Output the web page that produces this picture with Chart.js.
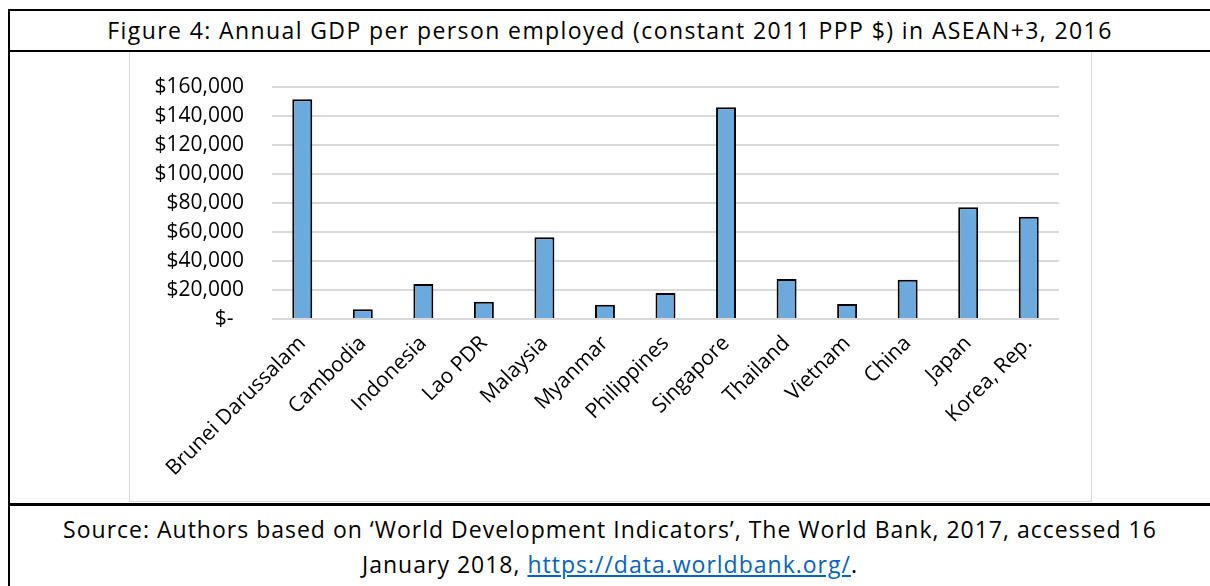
<!DOCTYPE html>
<html>
<head>
<meta charset="utf-8">
<script src="https://cdn.jsdelivr.net/npm/chart.js@4.4.0/dist/chart.umd.min.js"></script>
<style>
  body { margin: 0; width: 1210px; height: 586px; overflow: hidden; background: #fff; font-family: "Open Sans", sans-serif; color: #000; }
  .line { position: absolute; background: #000; }
  #title { position: absolute; left: 10px; top: 10px; width: 1200px; height: 40px; line-height: 40px; text-align: center; font-size: 23px; letter-spacing: 1.4px; }
  #chartBox { position: absolute; left: 129px; top: 52px; width: 961px; height: 449px; border: 1.5px solid #d9d9d9; border-top: none; }
  #chartBox canvas { position: absolute; left: 0; top: 0; }
  #source { position: absolute; left: 10px; top: 512px; width: 1200px; text-align: center; font-size: 23px; letter-spacing: 1px; line-height: 35px; }
  #source a { color: #0563c1; text-decoration: underline; }
</style>
</head>
<body>
<div class="line" style="left:8px;top:9px;width:1202px;height:2px"></div>
<div class="line" style="left:8px;top:9px;width:2px;height:577px"></div>
<div class="line" style="left:8px;top:50px;width:1202px;height:2px"></div>
<div class="line" style="left:8px;top:503px;width:1202px;height:3px"></div>
<div id="title">Figure 4: Annual GDP per person employed (constant 2011 PPP $) in ASEAN+3, 2016</div>
<div id="chartBox"><canvas id="gdpChart" width="960" height="449"></canvas></div>
<div id="source">Source: Authors based on ‘World Development Indicators’, The World Bank, 2017, accessed 16<br>January 2018, <a href="#">https://data.worldbank.org/</a>.</div>
<script>
// countries in ASEAN+3
const countries = ["Brunei Darussalam", "Cambodia", "Indonesia", "Lao PDR", "Malaysia", "Myanmar",
  "Philippines", "Singapore", "Thailand", "Vietnam", "China", "Japan", "Korea, Rep."];

// GDP per person employed, constant 2011 PPP $
const gdpPerWorker = [151500, 6700, 24100, 11900, 56300, 9900, 17900, 146000, 27600, 10300, 27100, 77000, 70600];

const yTickLabels = ["$-\u2002", "$20,000", "$40,000", "$60,000", "$80,000", "$100,000", "$120,000", "$140,000", "$160,000"];

const ctx = document.getElementById("gdpChart").getContext("2d");
new Chart(ctx, {
  type: "bar",
  data: {
    labels: countries,
    datasets: [{
      data: gdpPerWorker,
      backgroundColor: "#6caadd",
      borderColor: "#000",
      borderWidth: 2,
      borderSkipped: "bottom",
      barPercentage: 0.33,
      categoryPercentage: 1,
    }],
  },
  options: {
    responsive: false,
    animation: false,
    layout: { padding: { top: 35, right: 31, left: 0, bottom: 0 } },
    plugins: { legend: { display: false }, tooltip: { enabled: false } },
    scales: {
      x: {
        grid: { display: false },
        border: { display: false },
        ticks: {
          color: "#000",
          font: { family: "Open Sans", size: 21 },
          autoSkip: false,
          minRotation: 45,
          maxRotation: 45,
          padding: 4,
        },
        afterFit: (axis) => { axis.height = 182; },
      },
      y: {
        min: 0,
        max: 160000,
        border: { display: false },
        grid: { color: "#d9d9d9", lineWidth: 2, drawTicks: false },
        ticks: {
          stepSize: 20000,
          color: "#000",
          font: { family: "Open Sans", size: 21 },
          padding: 28,
          callback: (v, i) => yTickLabels[i],
        },
        afterFit: (axis) => {
          axis.width = 142;
          // tick padding would otherwise push the plot top down
          axis.paddingTop = 0;
          axis.paddingBottom = 0;
        },
      },
    },
  },
});
</script>
</body>
</html>
